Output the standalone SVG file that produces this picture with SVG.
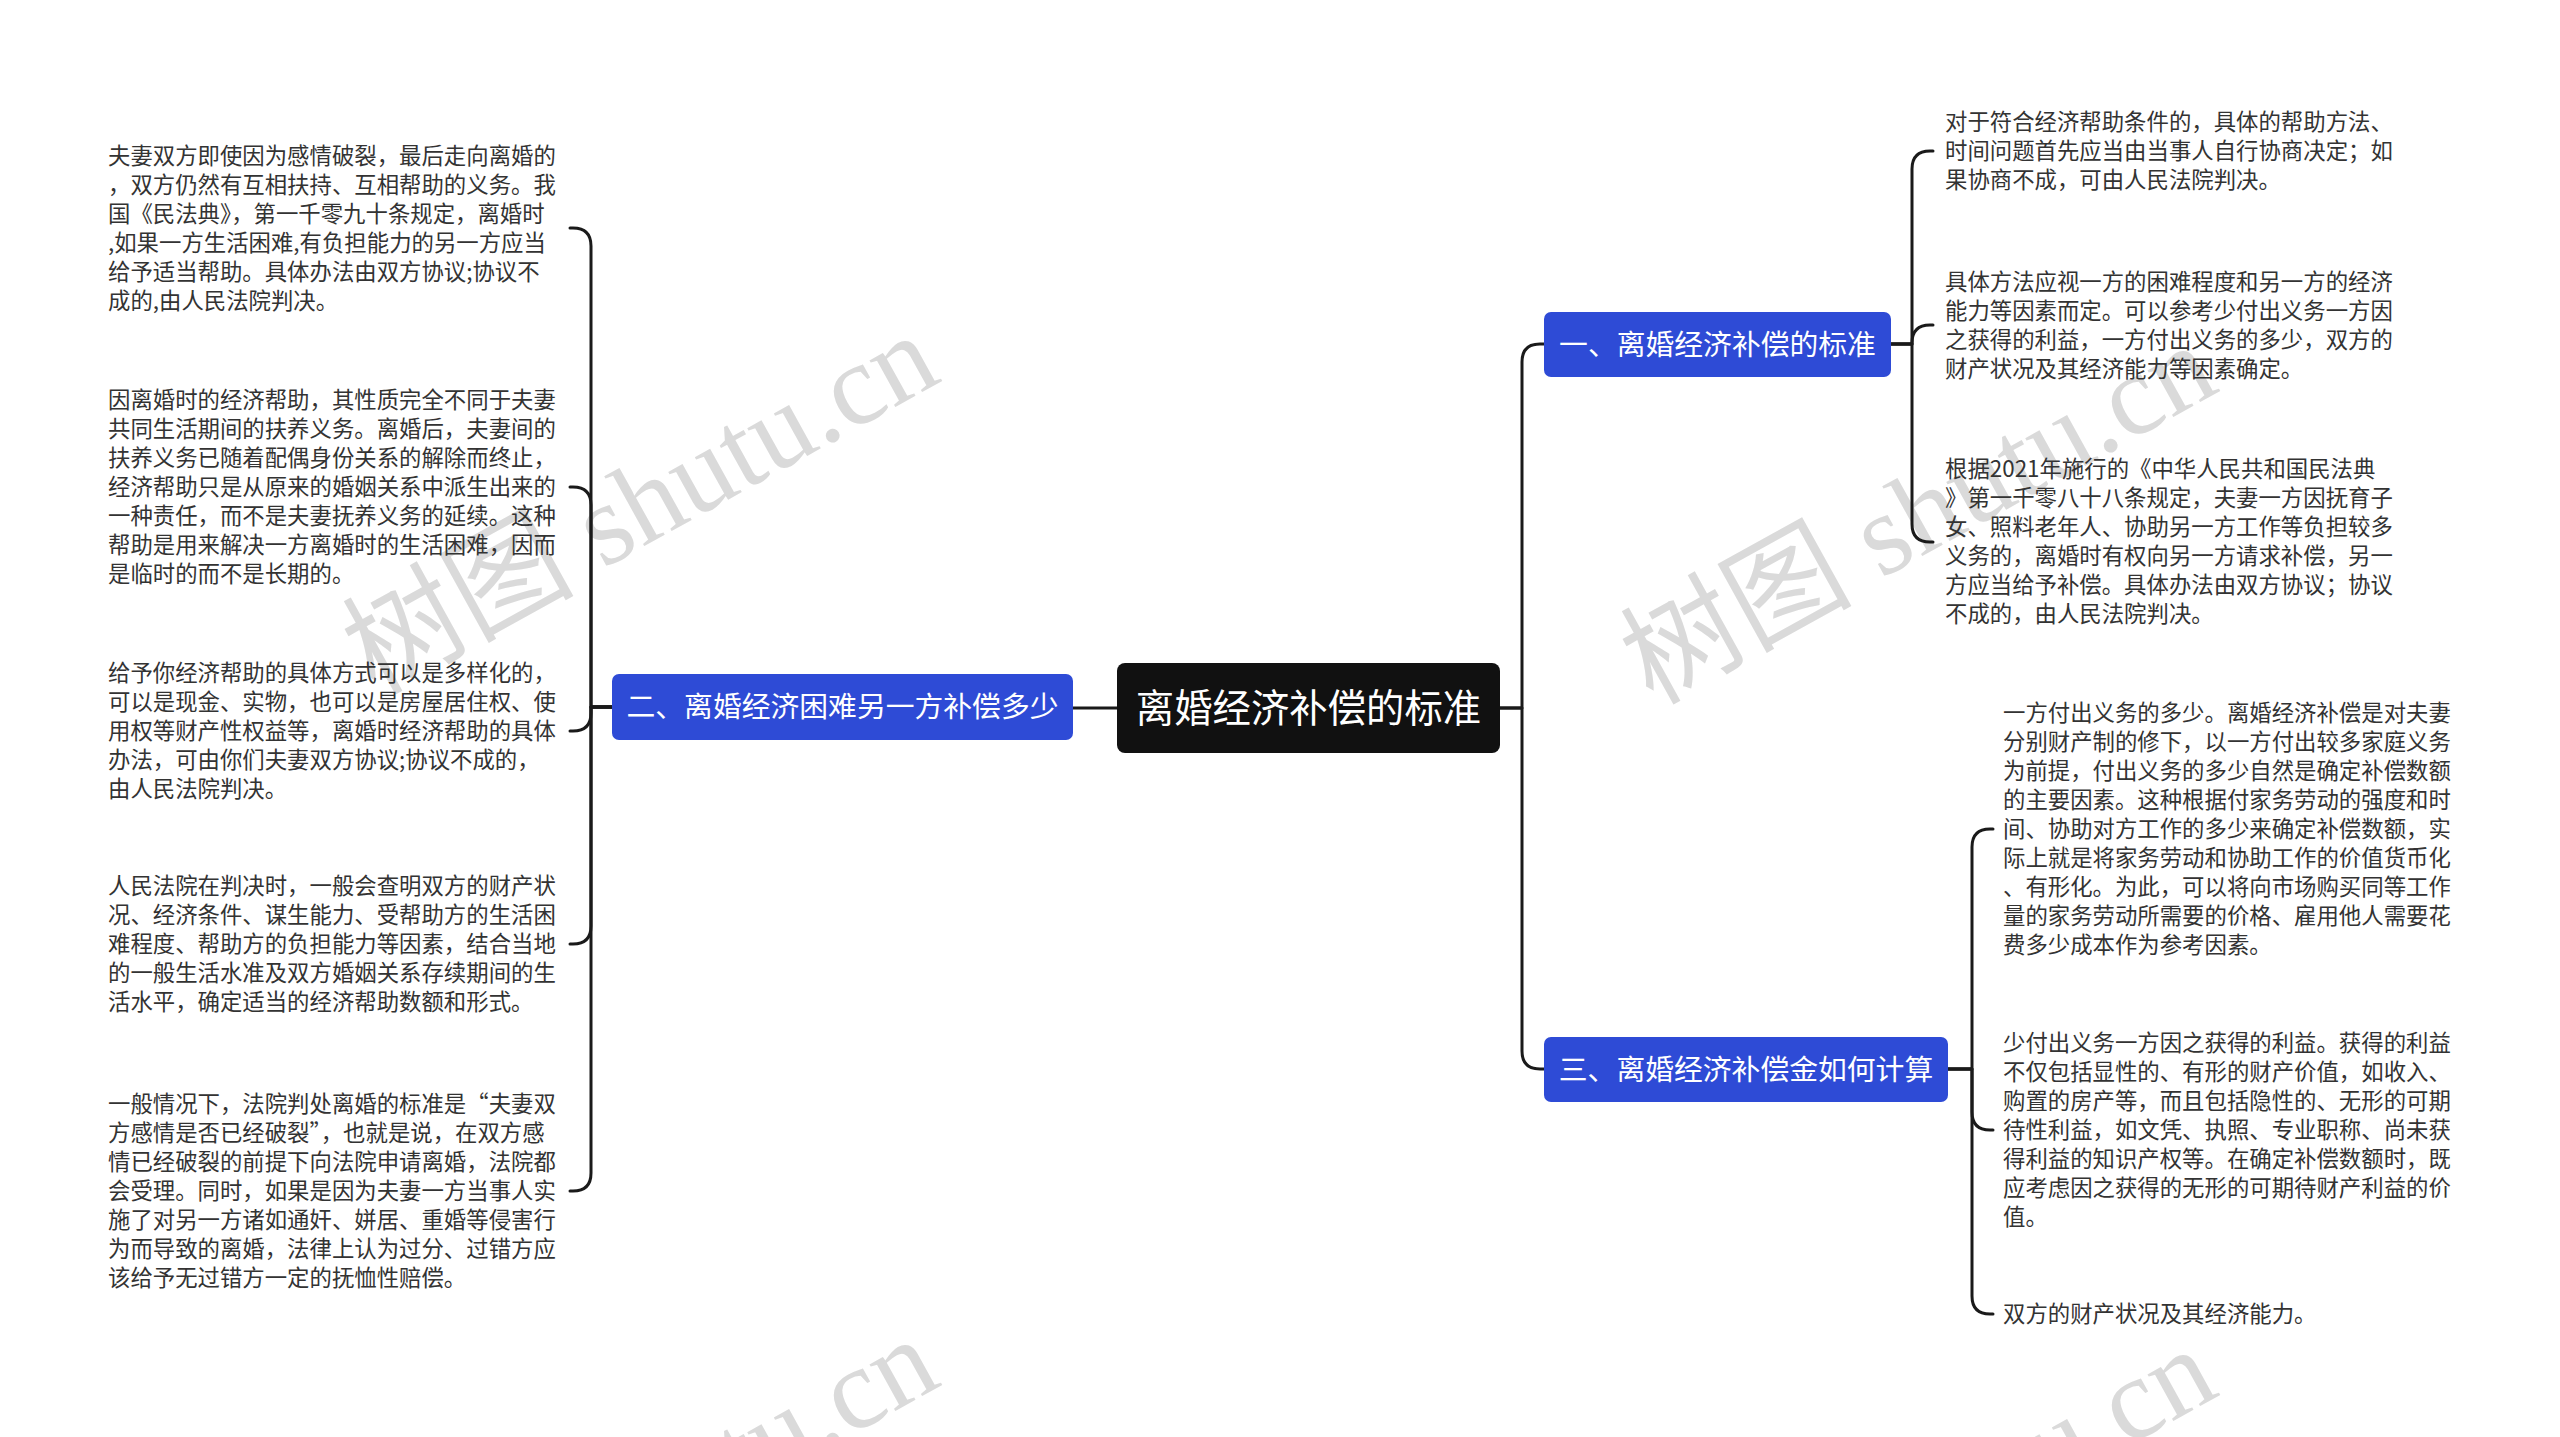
<svg xmlns="http://www.w3.org/2000/svg" width="2560" height="1437" viewBox="0 0 2560 1437">
<style>
.leaf{font-family:"Noto Sans CJK SC","Noto Sans",sans-serif;font-size:22.4px;fill:#333333}
.node-text{font-family:"Noto Sans CJK SC","Noto Sans",sans-serif;fill:#ffffff;text-anchor:middle}
.blue{fill:#2e4bd6}
.conn{fill:none;stroke:#1a1a1a;stroke-width:3;stroke-linecap:round;stroke-linejoin:round}
.wm{font-family:"Liberation Serif","Noto Sans CJK SC",serif;font-size:116px;fill:#d4d4d4;opacity:0.85;text-anchor:middle}
</style>
<rect width="2560" height="1437" fill="#ffffff"/>

<g id="watermarks">
<text class="wm" transform="translate(659 538) rotate(-29)">树图 shutu.cn</text>
<text class="wm" transform="translate(1937 548) rotate(-29)">树图 shutu.cn</text>
<text class="wm" transform="translate(659 1542) rotate(-29)">树图 shutu.cn</text>
<text class="wm" transform="translate(1937 1552) rotate(-29)">树图 shutu.cn</text>
</g>

<g id="connectors">
<path class="conn" d="M1117 708 H1073"/>
<path class="conn" d="M1500 708 H1522 V362 Q1522 344 1540 344 H1544"/>
<path class="conn" d="M1500 708 H1522 V1051 Q1522 1069 1540 1069 H1544"/>
<path class="conn" d="M612 707 H591 V246 Q591 228 573 228 H570"/>
<path class="conn" d="M612 707 H591 V505 Q591 487 573 487 H570"/>
<path class="conn" d="M612 707 H591 V713 Q591 731 573 731 H570"/>
<path class="conn" d="M612 707 H591 V926 Q591 944 573 944 H570"/>
<path class="conn" d="M612 707 H591 V1173 Q591 1191 573 1191 H570"/>
<path class="conn" d="M1891 344 H1912 V169 Q1912 151 1930 151 H1933"/>
<path class="conn" d="M1891 344 H1912 V343 Q1912 325 1930 325 H1933"/>
<path class="conn" d="M1891 344 H1912 V524 Q1912 542 1930 542 H1933"/>
<path class="conn" d="M1948 1069 H1972 V847 Q1972 829 1990 829 H1993"/>
<path class="conn" d="M1948 1069 H1972 V1112 Q1972 1130 1990 1130 H1993"/>
<path class="conn" d="M1948 1069 H1972 V1296 Q1972 1314 1990 1314 H1993"/>
</g>

<g id="root">
<rect x="1117" y="663" width="383" height="90" rx="8" fill="#111111"/>
<text class="node-text" x="1308.5" y="722" font-size="38.4">离婚经济补偿的标准</text>
</g>

<g id="branch-2">
<rect class="blue" x="612" y="674" width="461" height="66" rx="7"/>
<text class="node-text" x="842.5" y="717" font-size="28.8">二、离婚经济困难另一方补偿多少</text>
</g>

<g id="branch-1">
<rect class="blue" x="1544" y="312" width="347" height="65" rx="7"/>
<text class="node-text" x="1717.5" y="354.5" font-size="28.8">一、离婚经济补偿的标准</text>
</g>

<g id="branch-3">
<rect class="blue" x="1544" y="1037" width="404" height="65" rx="7"/>
<text class="node-text" x="1746" y="1079.5" font-size="28.8">三、离婚经济补偿金如何计算</text>
</g>

<g id="leaf-l1">
<text class="leaf" x="108" y="164">
<tspan x="108">夫妻双方即使因为感情破裂，最后走向离婚的</tspan>
<tspan x="108" dy="29">，双方仍然有互相扶持、互相帮助的义务。我</tspan>
<tspan x="108" dy="29">国《民法典》，第一千零九十条规定，离婚时</tspan>
<tspan x="108" dy="29">,如果一方生活困难,有负担能力的另一方应当</tspan>
<tspan x="108" dy="29">给予适当帮助。具体办法由双方协议;协议不</tspan>
<tspan x="108" dy="29">成的,由人民法院判决。</tspan>
</text>
</g>

<g id="leaf-l2">
<text class="leaf" x="108" y="408">
<tspan x="108">因离婚时的经济帮助，其性质完全不同于夫妻</tspan>
<tspan x="108" dy="29">共同生活期间的扶养义务。离婚后，夫妻间的</tspan>
<tspan x="108" dy="29">扶养义务已随着配偶身份关系的解除而终止，</tspan>
<tspan x="108" dy="29">经济帮助只是从原来的婚姻关系中派生出来的</tspan>
<tspan x="108" dy="29">一种责任，而不是夫妻抚养义务的延续。这种</tspan>
<tspan x="108" dy="29">帮助是用来解决一方离婚时的生活困难，因而</tspan>
<tspan x="108" dy="29">是临时的而不是长期的。</tspan>
</text>
</g>

<g id="leaf-l3">
<text class="leaf" x="108" y="681">
<tspan x="108">给予你经济帮助的具体方式可以是多样化的，</tspan>
<tspan x="108" dy="29">可以是现金、实物，也可以是房屋居住权、使</tspan>
<tspan x="108" dy="29">用权等财产性权益等，离婚时经济帮助的具体</tspan>
<tspan x="108" dy="29">办法，可由你们夫妻双方协议;协议不成的，</tspan>
<tspan x="108" dy="29">由人民法院判决。</tspan>
</text>
</g>

<g id="leaf-l4">
<text class="leaf" x="108" y="894">
<tspan x="108">人民法院在判决时，一般会查明双方的财产状</tspan>
<tspan x="108" dy="29">况、经济条件、谋生能力、受帮助方的生活困</tspan>
<tspan x="108" dy="29">难程度、帮助方的负担能力等因素，结合当地</tspan>
<tspan x="108" dy="29">的一般生活水准及双方婚姻关系存续期间的生</tspan>
<tspan x="108" dy="29">活水平，确定适当的经济帮助数额和形式。</tspan>
</text>
</g>

<g id="leaf-l5">
<text class="leaf" x="108" y="1112">
<tspan x="108">一般情况下，法院判处离婚的标准是“夫妻双</tspan>
<tspan x="108" dy="29">方感情是否已经破裂”，也就是说，在双方感</tspan>
<tspan x="108" dy="29">情已经破裂的前提下向法院申请离婚，法院都</tspan>
<tspan x="108" dy="29">会受理。同时，如果是因为夫妻一方当事人实</tspan>
<tspan x="108" dy="29">施了对另一方诸如通奸、姘居、重婚等侵害行</tspan>
<tspan x="108" dy="29">为而导致的离婚，法律上认为过分、过错方应</tspan>
<tspan x="108" dy="29">该给予无过错方一定的抚恤性赔偿。</tspan>
</text>
</g>

<g id="leaf-r1">
<text class="leaf" x="1945" y="130">
<tspan x="1945">对于符合经济帮助条件的，具体的帮助方法、</tspan>
<tspan x="1945" dy="29">时间问题首先应当由当事人自行协商决定；如</tspan>
<tspan x="1945" dy="29">果协商不成，可由人民法院判决。</tspan>
</text>
</g>

<g id="leaf-r2">
<text class="leaf" x="1945" y="290">
<tspan x="1945">具体方法应视一方的困难程度和另一方的经济</tspan>
<tspan x="1945" dy="29">能力等因素而定。可以参考少付出义务一方因</tspan>
<tspan x="1945" dy="29">之获得的利益，一方付出义务的多少，双方的</tspan>
<tspan x="1945" dy="29">财产状况及其经济能力等因素确定。</tspan>
</text>
</g>

<g id="leaf-r3">
<text class="leaf" x="1945" y="477">
<tspan x="1945">根据2021年施行的《中华人民共和国民法典</tspan>
<tspan x="1945" dy="29">》第一千零八十八条规定，夫妻一方因抚育子</tspan>
<tspan x="1945" dy="29">女、照料老年人、协助另一方工作等负担较多</tspan>
<tspan x="1945" dy="29">义务的，离婚时有权向另一方请求补偿，另一</tspan>
<tspan x="1945" dy="29">方应当给予补偿。具体办法由双方协议；协议</tspan>
<tspan x="1945" dy="29">不成的，由人民法院判决。</tspan>
</text>
</g>

<g id="leaf-r4">
<text class="leaf" x="2003" y="721">
<tspan x="2003">一方付出义务的多少。离婚经济补偿是对夫妻</tspan>
<tspan x="2003" dy="29">分别财产制的修下，以一方付出较多家庭义务</tspan>
<tspan x="2003" dy="29">为前提，付出义务的多少自然是确定补偿数额</tspan>
<tspan x="2003" dy="29">的主要因素。这种根据付家务劳动的强度和时</tspan>
<tspan x="2003" dy="29">间、协助对方工作的多少来确定补偿数额，实</tspan>
<tspan x="2003" dy="29">际上就是将家务劳动和协助工作的价值货币化</tspan>
<tspan x="2003" dy="29">、有形化。为此，可以将向市场购买同等工作</tspan>
<tspan x="2003" dy="29">量的家务劳动所需要的价格、雇用他人需要花</tspan>
<tspan x="2003" dy="29">费多少成本作为参考因素。</tspan>
</text>
</g>

<g id="leaf-r5">
<text class="leaf" x="2003" y="1051">
<tspan x="2003">少付出义务一方因之获得的利益。获得的利益</tspan>
<tspan x="2003" dy="29">不仅包括显性的、有形的财产价值，如收入、</tspan>
<tspan x="2003" dy="29">购置的房产等，而且包括隐性的、无形的可期</tspan>
<tspan x="2003" dy="29">待性利益，如文凭、执照、专业职称、尚未获</tspan>
<tspan x="2003" dy="29">得利益的知识产权等。在确定补偿数额时，既</tspan>
<tspan x="2003" dy="29">应考虑因之获得的无形的可期待财产利益的价</tspan>
<tspan x="2003" dy="29">值。</tspan>
</text>
</g>

<g id="leaf-r6">
<text class="leaf" x="2003" y="1322">双方的财产状况及其经济能力。</text>
</g>
</svg>
